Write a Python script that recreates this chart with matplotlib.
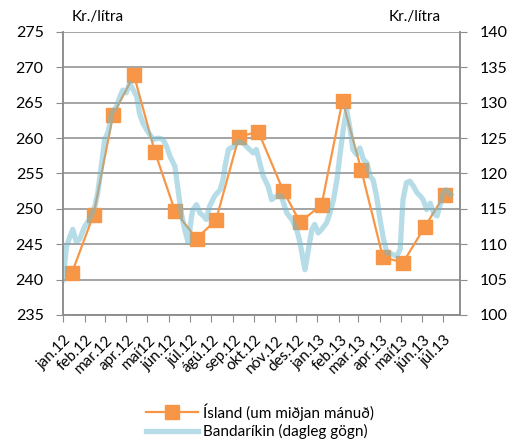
import numpy as np
import pandas as pd
import matplotlib
matplotlib.use('Agg')
import matplotlib.pyplot as plt
import matplotlib.transforms as mtransforms
from matplotlib.lines import Line2D

plt.rcParams['font.family'] = ['Lato', 'DejaVu Sans']

# Ísland, um miðjan mánuð (vinstri ás, kr./lítra)
isl_dags = ['2012-01-14', '2012-02-14', '2012-03-13', '2012-04-12', '2012-05-12',
            '2012-06-10', '2012-07-11', '2012-08-08', '2012-09-10', '2012-10-08',
            '2012-11-13', '2012-12-07', '2013-01-07', '2013-02-06', '2013-03-05',
            '2013-04-05', '2013-05-04', '2013-06-04', '2013-07-03']
isl_verd = [241.0, 249.2, 263.3, 268.9, 258.1, 249.7, 245.8, 248.4, 260.2, 260.9,
            252.5, 248.1, 250.6, 265.3, 255.5, 243.2, 242.4, 247.4, 252.0]

# Bandaríkin, dagleg gögn (hægri ás) - dagar frá 1. jan 2012
bna_dagar = [0, 5, 10, 14, 19, 24, 31, 38, 46, 50, 55, 60, 65, 70, 77, 82, 86, 91, 96,
             101, 106, 110, 115, 122, 130, 137, 144, 149, 154, 161, 166, 170, 175, 180,
             185, 187, 192, 197, 202, 206, 211, 218, 226, 230, 233, 238, 245, 252, 259,
             266, 274, 278, 283, 288, 295, 300, 307, 314, 322, 329, 336, 341, 346, 348,
             353, 358, 362, 367, 372, 379, 384, 389, 394, 398, 403, 408, 413, 417, 422,
             427, 432, 437, 442, 446, 451, 456, 461, 466, 473, 480, 485, 487, 489, 494,
             499, 504, 509, 514, 518, 523, 528, 533, 538, 542, 547, 551, 558]
bna_verd = [105.0, 109.7, 111.1, 112.1, 110.4, 110.7, 112.5, 113.5, 115.4, 117.3, 121.0,
            124.8, 125.9, 128.5, 129.5, 130.9, 131.8, 131.4, 132.8, 131.8, 130.9, 128.5,
            127.1, 125.9, 124.8, 125.0, 124.8, 123.8, 122.4, 121.0, 117.3, 114.4, 112.1,
            110.2, 114.0, 114.9, 115.6, 114.4, 114.0, 113.5, 115.4, 116.8, 117.7, 119.1,
            121.0, 123.4, 123.8, 124.5, 124.3, 123.6, 122.9, 123.4, 121.5, 119.6, 118.2,
            116.3, 116.8, 116.8, 114.4, 113.5, 112.1, 110.2, 107.4, 106.4, 109.3, 112.1,
            112.8, 111.6, 112.1, 113.0, 114.4, 116.3, 119.1, 122.4, 126.2, 129.0, 126.2,
            123.4, 122.7, 123.6, 122.0, 121.5, 119.6, 119.1, 116.8, 113.5, 110.7, 108.8,
            108.6, 108.3, 109.3, 113.0, 116.3, 118.7, 118.9, 118.2, 117.3, 116.8, 116.3,
            114.9, 115.8, 114.4, 114.0, 115.4, 117.3, 117.7, 117.0]

manudir = ['jan.12', 'feb.12', 'mar.12', 'apr.12', 'maí12', 'jún.12', 'júl.12', 'ágú.12',
           'sep.12', 'okt.12', 'nóv.12', 'des.12', 'jan.13', 'feb.13', 'mar.13', 'apr.13',
           'maí13', 'jún.13', 'júl.13']

start = pd.Timestamp('2012-01-01')
isl_x = pd.to_datetime(isl_dags)
bna_x = start + pd.to_timedelta(bna_dagar, unit='D')
tick_x = pd.date_range('2012-01-01', periods=len(manudir), freq='MS')

orange = '#f79646'
blue = '#6fbbd1'
grid_c = '#8c8c8c'

fig = plt.figure(figsize=(5.2, 4.48), dpi=100)
ax = fig.add_axes([0.1212, 0.2969, 0.7634, 0.6317])
ax2 = ax.twinx()

ax.plot(isl_x, isl_verd, color=orange, lw=1.6, marker='s', ms=9.5, zorder=3)
ax2.plot(bna_x, bna_verd, color=blue, lw=3.8, alpha=0.5, solid_joinstyle='round')

ax.set_xlim(start, pd.Timestamp('2013-07-25'))
ax.set_ylim(235, 275)
ax2.set_ylim(100, 140)
ax.set_yticks(np.arange(235, 276, 5))
ax2.set_yticks(np.arange(100, 141, 5))
ax.yaxis.grid(True, color=grid_c, lw=1.1)
ax.set_axisbelow(True)

ax.set_xticks(tick_x)
ax.set_xticklabels(manudir, rotation=45, ha='right', va='center', rotation_mode='anchor')
ax.tick_params(axis='x', length=5, color=grid_c, labelsize=11, pad=5)
ax.tick_params(axis='y', length=5, color=grid_c, labelsize=11.5, pad=9)
ax2.tick_params(axis='y', length=5, color=grid_c, labelsize=11.5, pad=9)

# færa mánaðarheitin aðeins til hægri og niður eins og í Excel
shift = mtransforms.ScaledTranslation(0.06, -0.09, fig.dpi_scale_trans)
for lab in ax.get_xticklabels():
    lab.set_transform(lab.get_transform() + shift)

for a in (ax, ax2):
    a.spines['top'].set_visible(False)
    for s in ('left', 'right', 'bottom'):
        a.spines[s].set_color(grid_c)
        a.spines[s].set_linewidth(1.1)

fig.text(0.138, 0.963, 'Kr./lítra', fontsize=11, va='center')
fig.text(0.748, 0.963, 'Kr./lítra', fontsize=11, va='center')

handles = [Line2D([], [], color=orange, lw=1.6, marker='s', ms=9.5),
           Line2D([], [], color=blue, lw=3.8, alpha=0.5)]
fig.legend(handles, ['Ísland (um miðjan mánuð)', 'Bandaríkin (dagleg gögn)'],
           loc='center', bbox_to_anchor=(0.5, 0.06), frameon=False, fontsize=11,
           handlelength=3.4, handletextpad=0.3, labelspacing=0.2)

fig.savefig('out.png', dpi=100)
